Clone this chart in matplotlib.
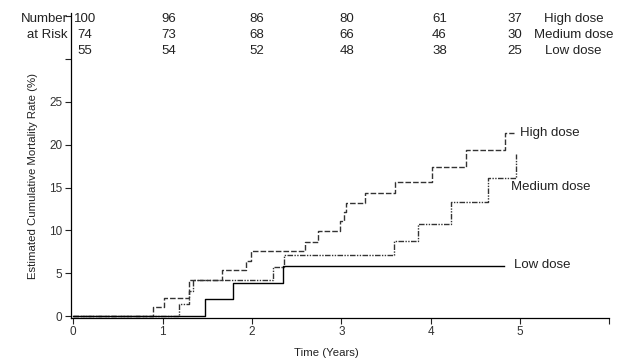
import matplotlib
matplotlib.use("Agg")
import matplotlib.pyplot as plt

plt.rcParams["font.family"] = ["Liberation Sans", "DejaVu Sans"]

# step curves (time in years, cumulative mortality %)
high_t = [0, 0.89, 1.02, 1.30, 1.66, 1.93, 1.99, 2.59, 2.74, 2.99, 3.03, 3.05, 3.26, 3.60, 4.02, 4.40, 4.83, 4.93]
high_y = [0, 1.1, 2.2, 4.2, 5.4, 6.5, 7.6, 8.7, 9.9, 11.1, 12.1, 13.2, 14.4, 15.7, 17.4, 19.4, 21.4, 21.4]

med_t = [0, 1.18, 1.29, 1.34, 2.24, 2.36, 3.59, 3.86, 4.23, 4.64, 4.96]
med_y = [0, 1.5, 2.9, 4.2, 5.7, 7.1, 8.8, 10.8, 13.3, 16.1, 18.9]

low_t = [0, 1.47, 1.79, 2.35, 4.82]
low_y = [0, 2.0, 3.9, 5.9, 5.9]

# number at risk table
risk_x = [0.13, 1.07, 2.05, 3.06, 4.1, 4.94]
risk_high = [100, 96, 86, 80, 61, 37]
risk_med = [74, 73, 68, 66, 46, 30]
risk_low = [55, 54, 52, 48, 38, 25]
groups = ["High dose", "Medium dose", "Low dose"]

fig = plt.figure(figsize=(6.36, 3.64), dpi=100)
ax = fig.add_axes([0.111, 0.126, 0.847, 0.838])

ax.step(high_t, high_y, where="post", color="#333333", lw=1.0, linestyle=(0, (4, 1.5)))
ax.step(med_t, med_y, where="post", color="#333333", lw=1.0, linestyle=(0, (4, 1, 1, 1, 1, 1)))
ax.step(low_t, low_y, where="post", color="black", lw=1.0)

ax.text(5.0, 21.3, groups[0], fontsize=9.5, va="center", ha="left", color="#222222")
ax.text(4.9, 15.1, groups[1], fontsize=9.5, va="center", ha="left", color="#222222")
ax.text(4.93, 6.0, groups[2], fontsize=9.5, va="center", ha="left", color="#222222")

# number at risk rows
rows_y = [34.6, 32.8, 30.9]
for vals, yy, name in zip([risk_high, risk_med, risk_low], rows_y, groups):
    for xx, v in zip(risk_x, vals):
        ax.text(xx, yy, str(v), fontsize=9.5, ha="center", va="center", color="#222222")
    ax.text(5.6, yy, name, fontsize=9.5, ha="center", va="center", color="#222222")
ax.text(-0.06, rows_y[0], "Number", fontsize=9.5, ha="right", va="center", clip_on=False, color="#222222")
ax.text(-0.06, rows_y[1], "at Risk", fontsize=9.5, ha="right", va="center", clip_on=False, color="#222222")

ax.set_xlim(-0.03, 6.0)
ax.set_ylim(-0.2, 35.3)
ax.set_xticks([0, 1, 2, 3, 4, 5, 6])
ax.set_xticklabels(["0", "1", "2", "3", "4", "5", ""])
ax.set_yticks([0, 5, 10, 15, 20, 25, 30, 35])
ax.set_yticklabels(["0", "5", "10", "15", "20", "25", "", ""])
ax.tick_params(labelsize=8.5, length=4, width=0.8, colors="#222222", labelcolor="#333333", pad=2)

for s in ["top", "right"]:
    ax.spines[s].set_visible(False)
for s in ["left", "bottom"]:
    ax.spines[s].set_linewidth(0.9)

ax.set_xlabel("Time (Years)", fontsize=8.2, color="#222222")
ax.set_ylabel("Estimated Cumulative Mortality Rate (%)", fontsize=8.2, color="#222222")
ax.yaxis.set_label_coords(-0.061, 0.466)
ax.xaxis.set_label_coords(0.474, -0.098)

fig.savefig("out.png", dpi=100)
